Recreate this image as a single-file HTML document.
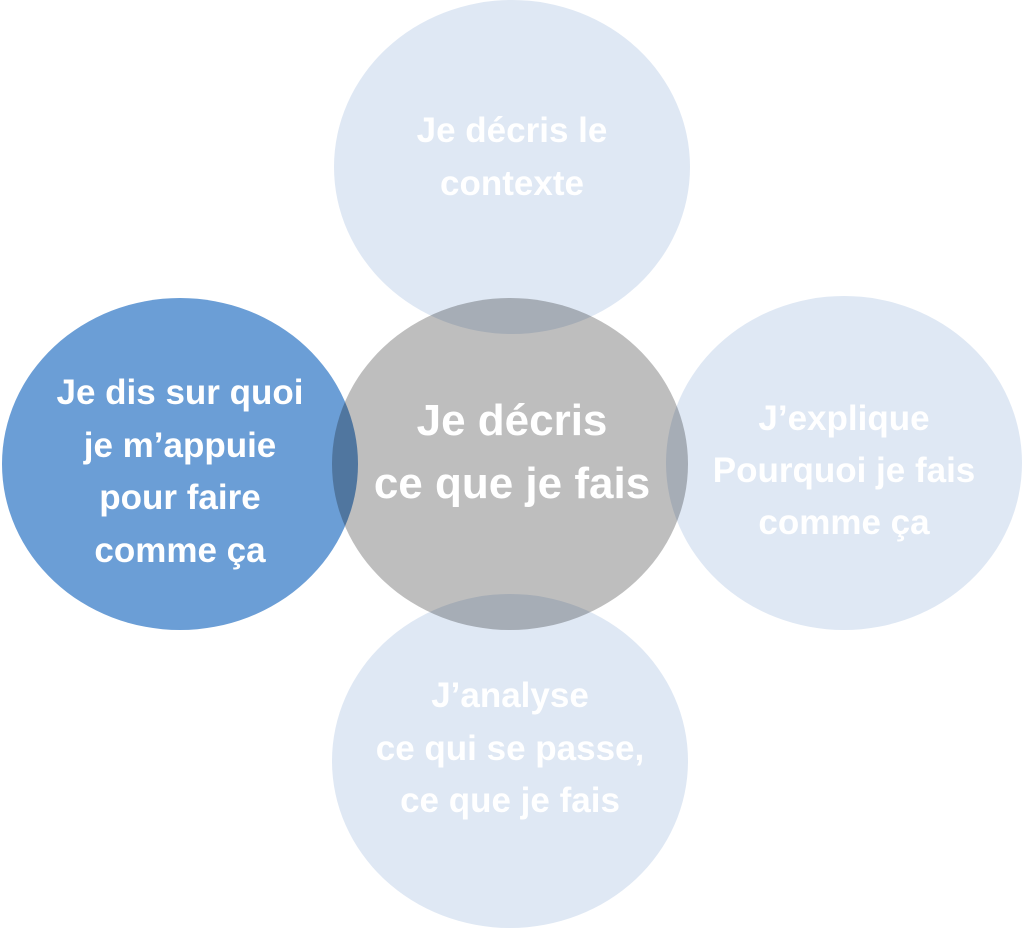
<!DOCTYPE html>
<html><head><meta charset="utf-8"><style>
html,body{margin:0;padding:0;background:#fff;}
svg{display:block}
text{font-family:"Liberation Sans",sans-serif;font-weight:bold;fill:#fff;text-anchor:middle}
</style></head><body>
<svg width="1024" height="929" viewBox="0 0 1024 929">
<ellipse cx="512" cy="167" rx="178" ry="167" fill="#dfe8f4"/>
<ellipse cx="844" cy="463" rx="178" ry="167" fill="#dfe8f4"/>
<ellipse cx="510" cy="761" rx="178" ry="167" fill="#dfe8f4"/>
<ellipse cx="180" cy="464" rx="178" ry="166" fill="#6b9ed6"/>
<ellipse cx="510" cy="464" rx="178" ry="166" fill="#bebebe" style="mix-blend-mode:multiply"/>
<g font-size="35">
<text x="512" y="142">Je décris le</text>
<text x="512" y="195">contexte</text>
<text x="180" y="404">Je dis sur quoi</text>
<text x="180" y="457">je m’appuie</text>
<text x="180" y="509">pour faire</text>
<text x="180" y="562">comme ça</text>
<text x="844" y="430">J’explique</text>
<text x="844" y="482">Pourquoi je fais</text>
<text x="844" y="534">comme ça</text>
<text x="510" y="707">J’analyse</text>
<text x="510" y="760">ce qui se passe,</text>
<text x="510" y="812">ce que je fais</text>
</g>
<g font-size="44">
<text x="512" y="435">Je décris</text>
<text x="512" y="498">ce que je fais</text>
</g>
</svg>
</body></html>
